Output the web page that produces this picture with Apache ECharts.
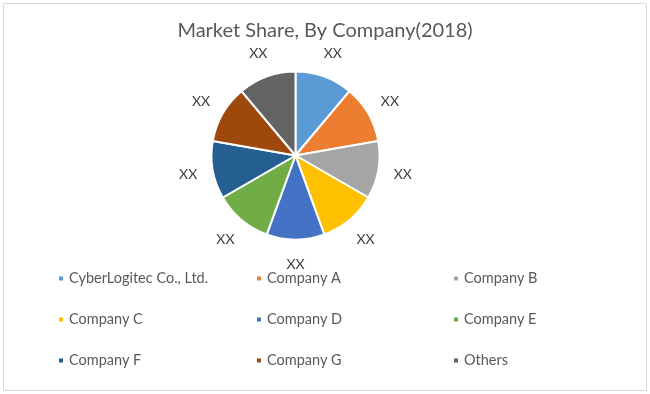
<!DOCTYPE html>
<html>
<head>
<meta charset="utf-8">
<script src="https://cdn.jsdelivr.net/npm/echarts@6/dist/echarts.min.js"></script>
<style>
html,body{margin:0;padding:0;background:#fff;}
#chart{width:650px;height:394px;}
</style>
</head>
<body>
<div id="chart"></div>
<script>
const categories = ["CyberLogitec Co., Ltd.", "Company A", "Company B", "Company C", "Company D", "Company E", "Company F", "Company G", "Others"];
const shares = [11.1, 11.1, 11.1, 11.1, 11.1, 11.1, 11.1, 11.1, 11.1];
const sliceLabels = ["XX", "XX", "XX", "XX", "XX", "XX", "XX", "XX", "XX"];
const colors = ["#5B9BD5", "#ED7D31", "#A5A5A5", "#FFC000", "#4472C4", "#70AD47", "#255E91", "#9E480E", "#636363"];

const chart = echarts.init(document.getElementById('chart'), null, {renderer: 'canvas'});
const pieData = categories.map((c, i) => ({name: c, value: shares[i], itemStyle: {color: colors[i]}}));
const labelData = categories.map((c, i) => ({name: c, value: shares[i], label: {formatter: sliceLabels[i]}}));

const font = 'Lato, "Open Sans", sans-serif';
function legendCol(names, left) {
  return {
    orient: 'vertical', left: left, top: 271, itemGap: 26, padding: 0,
    itemWidth: 6, itemHeight: 6, icon: 'rect',
    data: names,
    textStyle: {color: '#595959', fontSize: 14.5, lineHeight: 14, fontFamily: font},
    selectedMode: false
  };
}
chart.setOption({
  animation: false,
  color: colors,
  title: {
    text: 'Market Share, By Company(2018)', left: 'center', top: 16,
    textStyle: {color: '#595959', fontSize: 20, fontWeight: 'normal', fontFamily: font}
  },
  graphic: [{
    type: 'rect', shape: {x: 3.5, y: 3.5, width: 643, height: 387},
    style: {fill: 'none', stroke: '#d9d9d9', lineWidth: 1}, silent: true, z: -1
  }],
  legend: [
    legendCol([categories[0], categories[3], categories[6]], 57),
    legendCol([categories[1], categories[4], categories[7]], 255),
    legendCol([categories[2], categories[5], categories[8]], 452)
  ],
  series: [{
    type: 'pie', center: [295.5, 155.5], radius: 84, startAngle: 90, clockwise: true,
    data: pieData,
    itemStyle: {borderColor: '#fff', borderWidth: 2},
    label: {show: false}, labelLine: {show: false},
    emphasis: {disabled: true}
  }, {
    type: 'pie', center: [295.5, 155.5], radius: [84, 128], startAngle: 90, clockwise: true,
    data: labelData, silent: true,
    itemStyle: {color: 'rgba(0,0,0,0)'},
    label: {show: true, position: 'inside', color: '#404040', fontSize: 14, fontFamily: font},
    labelLine: {show: false},
    emphasis: {disabled: true}
  }]
});
</script>
</body>
</html>
